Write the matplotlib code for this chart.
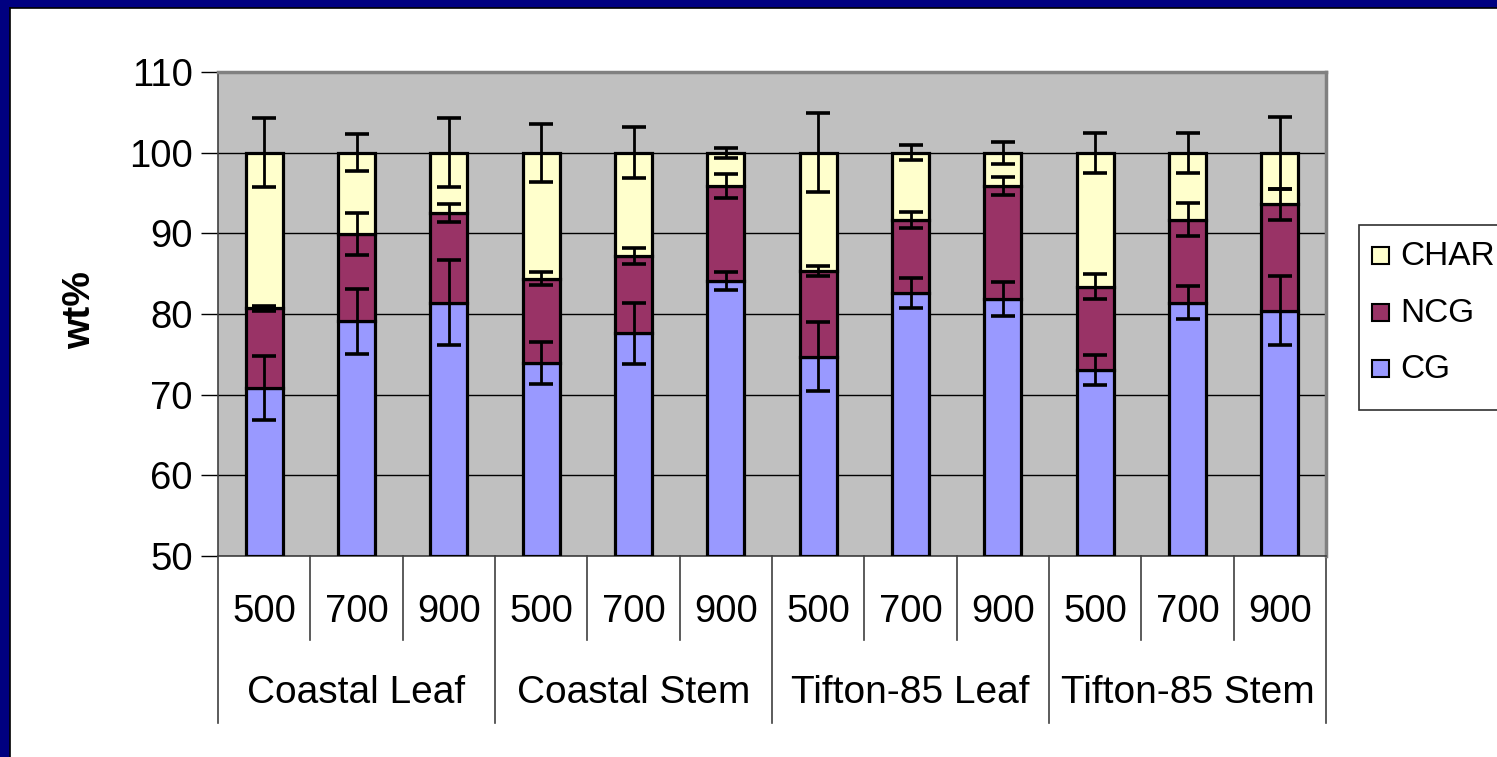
import matplotlib
matplotlib.use("Agg")
import matplotlib.pyplot as plt
import matplotlib.transforms as mtrans
from matplotlib.patches import Rectangle
import numpy as np

# ---- data ----
groups = ["Coastal Leaf", "Coastal Stem", "Tifton-85 Leaf", "Tifton-85 Stem"]
temps = ["500", "700", "900"]
series_names = ["CG", "NCG", "CHAR"]
CG = [70.8, 79.1, 81.4, 73.9, 77.6, 84.1, 74.7, 82.6, 81.9, 73.1, 81.4, 80.4]
NCG = [9.9, 10.8, 11.1, 10.5, 9.6, 11.8, 10.6, 9.1, 14.0, 10.3, 10.3, 13.2]
CHAR = [19.3, 10.1, 7.5, 15.6, 12.8, 4.1, 14.7, 8.3, 4.1, 16.6, 8.3, 6.4]
CG_err = [4.0, 4.0, 5.3, 2.6, 3.8, 1.1, 4.3, 1.9, 2.1, 1.85, 2.05, 4.3]
NCG_err = [0.3, 2.6, 1.15, 0.77, 1.0, 1.5, 0.6, 1.0, 1.1, 1.5, 2.07, 1.9]
CHAR_err = [4.3, 2.3, 4.3, 3.6, 3.2, 0.6, 4.9, 0.9, 1.35, 2.5, 2.5, 4.45]
yticks = [50, 60, 70, 80, 90, 100, 110]

colors = {"CG": "#9999FF", "NCG": "#993366", "CHAR": "#FFFFCC"}

W, H = 1497, 757
fig = plt.figure(figsize=(W / 100, H / 100), dpi=100)
fig.patch.set_facecolor("white")
plt.rcParams["font.family"] = ["Liberation Sans", "DejaVu Sans"]

def fx(px):
    return px / W

def fy(py):
    return 1 - py / H

# navy frame (top and left)
fig.patches.append(Rectangle((0, fy(8)), 1, 8 / H, transform=fig.transFigure,
                             facecolor="#000080", edgecolor="none", zorder=0))
fig.patches.append(Rectangle((0, 0), 10 / W, 1, transform=fig.transFigure,
                             facecolor="#000080", edgecolor="none", zorder=0))
fig.lines.append(plt.Line2D([fx(10), 1], [fy(8), fy(8)], transform=fig.transFigure, color="black", lw=1.2))
fig.lines.append(plt.Line2D([fx(10), fx(10)], [0, fy(8)], transform=fig.transFigure, color="black", lw=1.2))

left, right, top, bottom = 218, 1326, 72, 556
ax = fig.add_axes([fx(left), fy(bottom), (right - left) / W, (bottom - top) / H])
ax.set_facecolor("#C0C0C0")

n = len(CG)
x = np.arange(n)
cg = np.array(CG)
ncg = np.array(NCG)
ch = np.array(CHAR)
bw = 0.4
blw = 2.3
ax.bar(x, cg - 50, bottom=50, width=bw, color=colors["CG"], edgecolor="black", linewidth=blw, zorder=3)
ax.bar(x, ncg, bottom=cg, width=bw, color=colors["NCG"], edgecolor="black", linewidth=blw, zorder=3)
ax.bar(x, ch, bottom=cg + ncg, width=bw, color=colors["CHAR"], edgecolor="black", linewidth=blw, zorder=3)

ekw = dict(fmt="none", ecolor="black", elinewidth=2.0, capsize=8.3, capthick=2.6, zorder=5)
ax.errorbar(x, cg, yerr=CG_err, **ekw)
ax.errorbar(x, cg + ncg, yerr=NCG_err, **ekw)
ax.errorbar(x, cg + ncg + ch, yerr=CHAR_err, **ekw)

ax.set_xlim(-0.5, n - 0.5)
ax.set_ylim(50, 110)
ax.set_yticks(yticks)
ax.set_yticklabels([str(v) for v in yticks], fontsize=27.5)
ax.tick_params(axis="y", direction="out", length=12, width=1, color="black", pad=6)
ax.set_xticks([])
ax.yaxis.grid(True, color="black", lw=1)
ax.set_axisbelow(True)
for s in ["top", "right"]:
    ax.spines[s].set_color("#808080")
    ax.spines[s].set_linewidth(2.5)
ax.spines["left"].set_color("#404040")
ax.spines["left"].set_linewidth(1.2)
ax.spines["bottom"].set_color("#404040")
ax.spines["bottom"].set_linewidth(1.2)

ax.set_ylabel("wt%", fontsize=28, fontweight="bold")
ax.yaxis.set_label_coords(fx(98), 0.5 * (fy(bottom) + fy(top)) + 0.005, transform=fig.transFigure)

# category labels and separators
bt = mtrans.blended_transform_factory(ax.transData, fig.transFigure)
for i in range(n):
    ax.text(x[i], fy(612), temps[i % 3], transform=bt, ha="center", va="center", fontsize=27.5, clip_on=False)
for g, name in enumerate(groups):
    ax.text(3 * g + 1, fy(693), name, transform=bt, ha="center", va="center", fontsize=28, clip_on=False)
for b in range(n + 1):
    xb = b - 0.5
    y_end = 723 if b % 3 == 0 else 640
    ax.plot([xb, xb], [fy(bottom), fy(y_end)], transform=bt, color="#404040", lw=1.2, clip_on=False)

# legend (manual)
fig.patches.append(Rectangle((fx(1359), fy(410)), (W - 1359 + 5) / W, (410 - 225) / H,
                             transform=fig.transFigure, facecolor="white", edgecolor="#303030", lw=1.2))
leg_items = [("CHAR", 256), ("NCG", 313), ("CG", 369)]
for name, yc in leg_items:
    fig.patches.append(Rectangle((fx(1372), fy(yc + 8)), 17 / W, 17 / H, transform=fig.transFigure,
                                 facecolor=colors[name], edgecolor="black", lw=1.5))
    fig.text(fx(1400), fy(yc), name, ha="left", va="center", fontsize=24)

fig.savefig("out.png", dpi=100)
